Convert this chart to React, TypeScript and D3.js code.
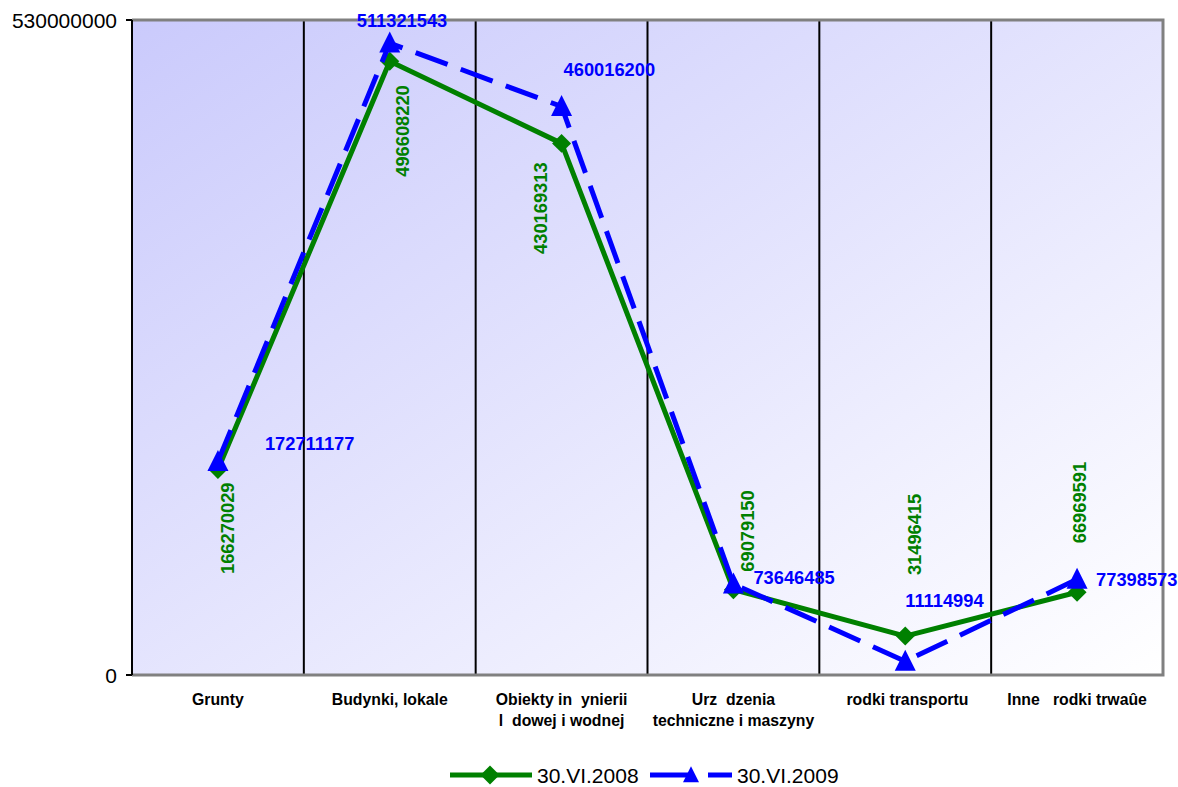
import React from "react";
import * as d3 from "d3";

const categoryLines: string[][] = [
  ["Grunty"],
  ["Budynki, lokale"],
  ["Obiekty in  ynierii", "l  dowej i wodnej"],
  ["Urz  dzenia", "techniczne i maszyny"],
  [" rodki transportu"],
  ["Inne   rodki trwaûe"],
];
const categories = categoryLines.map((l) => l.join(" "));
const values2008 = [166270029, 496608220, 430169313, 69079150, 31496415, 66969591];
const values2009 = [172711177, 511321543, 460016200, 73646485, 11114994, 77398573];
const seriesNames = ["30.VI.2008", "30.VI.2009"];
const yTicks = [0, 530000000];

// label placement offsets (style, not data)
const greenLabelPos = [
  { dx: 9, side: "below", gap: 13 },
  { dx: 13, side: "below", gap: 24 },
  { dx: -21, side: "below", gap: 19 },
  { dx: 14, side: "above", gap: 18 },
  { dx: 9, side: "above", gap: 61 },
  { dx: 2, side: "above", gap: 49 },
];
const blueLabelPos = [
  { dx: 47, dy: -18 },
  { dx: -33, dy: -23 },
  { dx: 2, dy: -37 },
  { dx: 20, dy: -7 },
  { dx: 0, dy: -61 },
  { dx: 19, dy: 0 },
];

const W = 1178;
const H = 787;
const L = 132, R = 1163, T = 20, B = 675;
const GREEN = "#008000";
const BLUE = "#0000ff";
const FONT = "'Liberation Sans', Arial, sans-serif";

export default function App() {
  const x = d3.scaleBand<string>().domain(categories).range([L, R]).padding(0);
  const y = d3.scaleLinear().domain([yTicks[0], yTicks[yTicks.length - 1]]).range([B, T]);
  const cx = (i: number) => (x(categories[i]) as number) + x.bandwidth() / 2;

  const line = d3
    .line<number>()
    .x((_, i) => cx(i))
    .y((d) => y(d));

  const diamond = d3.symbol().type(d3.symbolDiamond2).size(230)();
  const triangle = (px: number, py: number, s: number) =>
    `M${px},${py - s * 0.55}L${px + s / 2},${py + s * 0.45}L${px - s / 2},${py + s * 0.45}Z`;

  return (
    <svg
      width={W}
      height={H}
      style={{ position: "absolute", left: 0, top: 0, display: "block", background: "#fff" }}
      fontFamily={FONT}
    >
      <defs>
        <linearGradient id="bg" x1="0" y1="0" x2="1" y2="1">
          <stop offset="0%" stopColor="#cacafc" />
          <stop offset="100%" stopColor="#ffffff" />
        </linearGradient>
      </defs>
      <rect x={L} y={T} width={R - L} height={B - T} fill="url(#bg)" />
      {/* category separators */}
      {categories.slice(1).map((c) => (
        <line key={c} x1={x(c)} x2={x(c)} y1={T} y2={B} stroke="#000" strokeWidth={2} />
      ))}
      {/* border */}
      <path d={`M${L},${T}H${R}V${B}H${L}`} fill="none" stroke="#808080" strokeWidth={3} />
      <line x1={L} x2={L} y1={T} y2={B} stroke="#000" strokeWidth={2} />
      {/* y ticks */}
      {yTicks.map((t) => (
        <g key={t}>
          <line x1={L - 6} x2={L} y1={y(t)} y2={y(t)} stroke="#000" strokeWidth={2} />
          <text x={117} y={y(t)} dy="0.36em" textAnchor="end" fontSize={21} fill="#000">
            {t}
          </text>
        </g>
      ))}
      {/* category labels */}
      {categoryLines.map((lines, i) => (
        <text
          key={i}
          x={cx(i)}
          y={705}
          textAnchor="middle"
          fontSize={15.8}
          fontWeight="bold"
          fill="#000"
          style={{ whiteSpace: "pre" }}
        >
          {lines.map((ln, j) => (
            <tspan key={j} x={cx(i)} dy={j === 0 ? 0 : 21}>
              {ln}
            </tspan>
          ))}
        </text>
      ))}
      {/* series 2008 */}
      <path d={line(values2008) || ""} fill="none" stroke={GREEN} strokeWidth={5} strokeLinejoin="round" />
      {values2008.map((v, i) => (
        <path key={i} d={diamond || ""} transform={`translate(${cx(i)},${y(v)})`} fill={GREEN} />
      ))}
      {/* series 2009 */}
      <path
        d={line(values2009) || ""}
        fill="none"
        stroke={BLUE}
        strokeWidth={5}
        strokeDasharray="34,14"
      />
      {values2009.map((v, i) => (
        <path key={i} d={triangle(cx(i), y(v), 21)} fill={BLUE} />
      ))}
      {/* data labels 2008 */}
      {values2008.map((v, i) => {
        const p = greenLabelPos[i];
        const px = cx(i) + p.dx;
        const py = p.side === "below" ? y(v) + p.gap : y(v) - p.gap;
        return (
          <text
            key={i}
            transform={`translate(${px},${py}) rotate(-90)`}
            textAnchor={p.side === "below" ? "end" : "start"}
            dy="0.36em"
            fontSize={18.3}
            fontWeight="bold"
            fill={GREEN}
          >
            {v}
          </text>
        );
      })}
      {/* data labels 2009 */}
      {values2009.map((v, i) => {
        const p = blueLabelPos[i];
        return (
          <text
            key={i}
            x={cx(i) + p.dx}
            y={y(v) + p.dy}
            dy="0.36em"
            fontSize={18.3}
            fontWeight="bold"
            fill={BLUE}
          >
            {v}
          </text>
        );
      })}
      {/* legend */}
      <g>
        <line x1={450} x2={532} y1={775} y2={775} stroke={GREEN} strokeWidth={5} />
        <path d={diamond || ""} transform="translate(490,775)" fill={GREEN} />
        <text x={537} y={775} dy="0.36em" fontSize={21} fill="#000">
          {seriesNames[0]}
        </text>
        <line x1={650} x2={732} y1={775} y2={775} stroke={BLUE} strokeWidth={5} strokeDasharray="43,15" />
        <path d={triangle(691, 775, 16)} fill={BLUE} />
        <text x={737} y={775} dy="0.36em" fontSize={21} fill="#000">
          {seriesNames[1]}
        </text>
      </g>
    </svg>
  );
}
